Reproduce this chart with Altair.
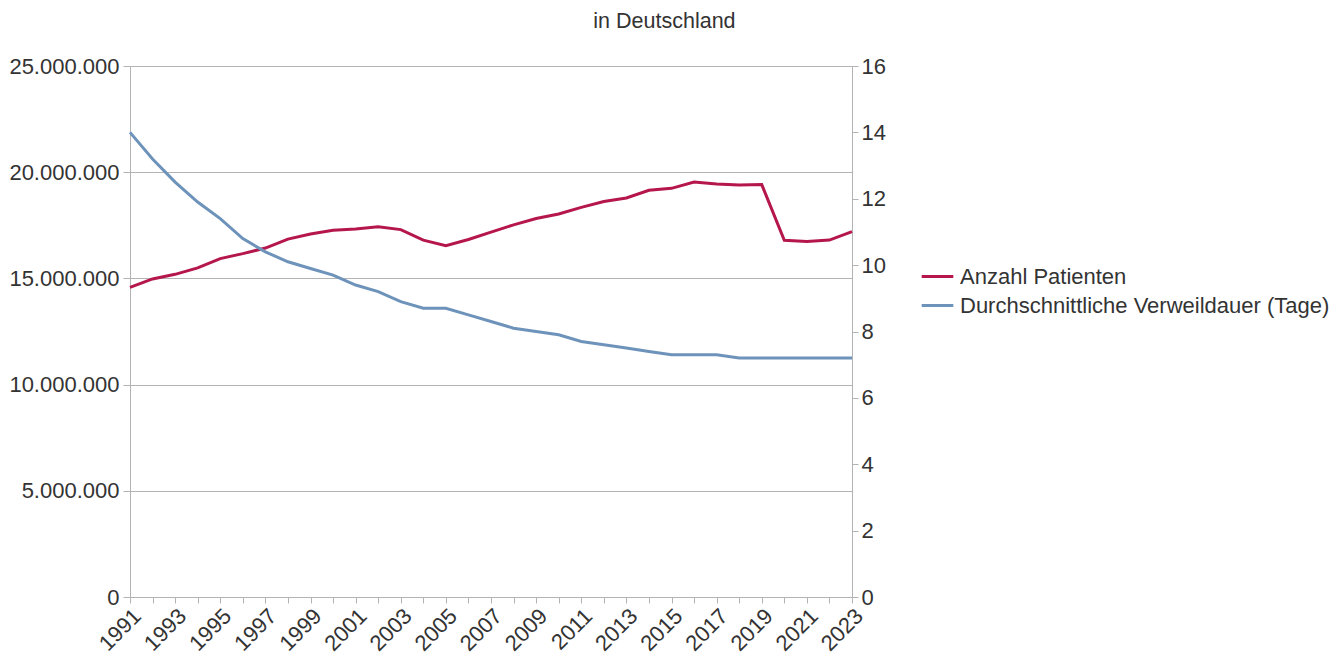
import altair as alt
import pandas as pd

years = list(range(1991, 2024))
patients = [14576613, 14974845, 15191174, 15497702, 15931168, 16165019, 16429031,
            16847477, 17092707, 17262929, 17325083, 17432272, 17295910, 16801649,
            16539398, 16832883, 17178573, 17519579, 17817180, 18032903, 18344156,
            18620442, 18787168, 19148626, 19239574, 19532779, 19442810, 19392466,
            19415451, 16793962, 16742100, 16803000, 17200000]
stay = [14.0, 13.2, 12.5, 11.9, 11.4, 10.8, 10.4, 10.1, 9.9, 9.7, 9.4, 9.2, 8.9,
        8.7, 8.7, 8.5, 8.3, 8.1, 8.0, 7.9, 7.7, 7.6, 7.5, 7.4, 7.3, 7.3, 7.3, 7.2,
        7.2, 7.2, 7.2, 7.2, 7.2]
series_names = ["Anzahl Patienten", "Durchschnittliche Verweildauer (Tage)"]
series_colors = ["#b5164b", "#6e93ba"]
left_ticks = [0, 5000000, 10000000, 15000000, 20000000, 25000000]
right_ticks = [0, 2, 4, 6, 8, 10, 12, 14, 16]

df = pd.DataFrame({"Jahr": years, "Patienten": patients, "Verweildauer": stay})

FONT = "Liberation Sans"
GRAY = "#b3b3b3"
FS = 22

color = alt.Color(
    "series:N",
    scale=alt.Scale(domain=series_names, range=series_colors),
    legend=alt.Legend(
        title=None, orient="none", legendX=790, legendY=193,
        symbolType="stroke", symbolSize=1000, symbolStrokeWidth=3,
        labelFont=FONT, labelFontSize=FS, labelColor="#333333",
        rowPadding=0, labelOffset=5, labelLimit=0,
    ),
)

x = alt.X(
    "Jahr:Q",
    scale=alt.Scale(domain=[1991, 2023], nice=False, zero=False),
    axis=alt.Axis(
        values=years, title=None, grid=False, tickSize=6,
        labelExpr="datum.value % 2 == 1 ? '' + datum.value : ''",
        labelAngle=-45, labelAlign="right", labelBaseline="top",
        labelOverlap=False, labelPadding=2, labelFlush=False,
    ),
)

base = alt.Chart(df)

red = base.transform_calculate(series="'Anzahl Patienten'").mark_line(strokeWidth=3).encode(
    x=x,
    y=alt.Y(
        "Patienten:Q",
        scale=alt.Scale(domain=[0, 25000000], nice=False),
        axis=alt.Axis(
            orient="left", values=left_ticks, title=None, grid=True,
            tickSize=7, labelPadding=4,
            labelExpr="datum.value == 0 ? '0' : format(datum.value / 1000000, 'd') + '.000.000'",
        ),
    ),
    color=color,
)

blue = base.transform_calculate(series="'Durchschnittliche Verweildauer (Tage)'").mark_line(strokeWidth=3).encode(
    x=x,
    y=alt.Y(
        "Verweildauer:Q",
        scale=alt.Scale(domain=[0, 16], nice=False),
        axis=alt.Axis(
            orient="right", values=right_ticks, title=None, grid=False,
            tickSize=6, labelPadding=3,
        ),
    ),
    color=color,
)

chart = (
    alt.layer(red, blue)
    .resolve_scale(y="independent")
    .properties(
        width=722, height=531,
        background="white",
        padding={"left": 0, "top": 2, "right": 5, "bottom": 0},
        title=alt.TitleParams(
            "in Deutschland", frame="bounds", anchor="middle", dx=-5,
            font=FONT, fontSize=21.5, fontWeight="normal", color="#333333", offset=23,
        ),
    )
    .configure_axis(
        labelFont=FONT, labelFontSize=FS, labelColor="#333333",
        domainColor=GRAY, tickColor=GRAY, gridColor=GRAY,
        domainWidth=1, tickWidth=1, gridWidth=1,
    )
    .configure_view(stroke=None)
)

chart.save("out.html", embed_options={"renderer": "svg", "actions": False})
